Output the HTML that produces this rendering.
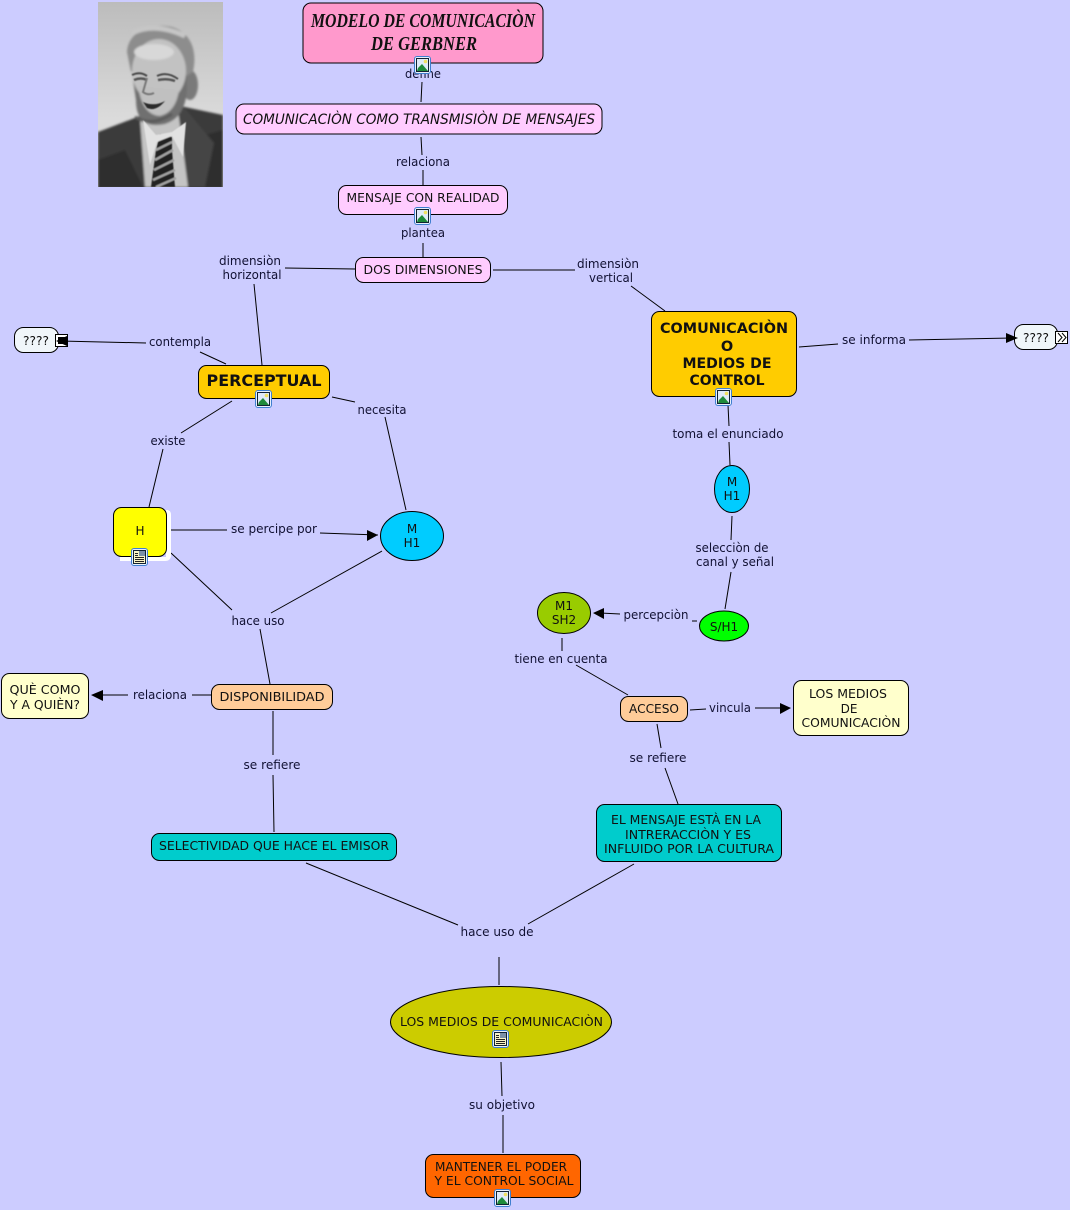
<!DOCTYPE html>
<html><head><meta charset="utf-8"><style>
html,body{margin:0;padding:0;background:#ccf;width:1070px;height:1210px;overflow:hidden}
svg{display:block}
text{font-family:"DejaVu Sans","Liberation Sans",sans-serif;font-size:12px;fill:#111133;text-anchor:middle}
.n{fill:#111}
.l{stroke:#000;stroke-width:1;fill:none}
.b{stroke:#000;stroke-width:1}
</style></head><body>
<svg width="1070" height="1210" viewBox="0 0 1070 1210" xmlns="http://www.w3.org/2000/svg">
<defs>
<g id="img"><rect x="0.5" y="0.5" width="16" height="17" rx="2.500" fill="#e8f0fc" stroke="#3f7fd0"/><rect x="2.500" y="2.500" width="12" height="13" fill="#dfeaf8" stroke="#123"/><path d="M3 15l1-3 4-4 6 7z" fill="#1f8a3a"/><circle cx="11.500" cy="5.500" r="1.800" fill="#f0e060"/></g>
<g id="doc"><rect x="0.5" y="0.5" width="16" height="17" rx="2.500" fill="#e8f0fc" stroke="#3f7fd0"/><rect x="2.500" y="2.500" width="12" height="13" fill="#f8f4c8" stroke="#123"/><path d="M4 5.500h3M4 7.500h3M4 9.500h9M4 11.500h9M4 13.500h9" stroke="#222"/><rect x="8" y="3" width="6" height="5" fill="#7a90a8"/></g>
<linearGradient id="bg" x1="0" y1="0" x2="0" y2="1"><stop offset="0" stop-color="#bcbcbc"/><stop offset="0.65" stop-color="#dcdcdc"/><stop offset="1" stop-color="#dcdcdc"/></linearGradient>
<filter id="blur" x="-5%" y="-5%" width="110%" height="110%"><feGaussianBlur stdDeviation="1"/></filter>
<filter id="blur2" x="-20%" y="-20%" width="140%" height="140%"><feGaussianBlur stdDeviation="0.600"/></filter>
<clipPath id="ph"><rect x="98" y="2" width="125" height="185"/></clipPath>
</defs>
<rect width="1070" height="1210" fill="#ccf"/>

<!-- photo -->
<rect x="98" y="2" width="125" height="185" fill="url(#bg)"/>
<g clip-path="url(#ph)">
<g filter="url(#blur)">
<path d="M98 132L140 116L180 106L223 115V190H98z" fill="#3a3a3a"/>
<path d="M98 160L125 150L143 187H98zM205 135L223 130V187H205z" fill="#2e2e2e"/>
<path d="M140 118L182 108L188 187H145z" fill="#c4c4c4"/>
<path d="M178 110L185 108L214 143L205 187H188z" fill="#444"/>
<ellipse cx="190" cy="85" rx="8" ry="15" fill="#7a7a7a"/>
<path d="M136 100Q136 130 165 124Q185 118 187 90L186 60L130 60z" fill="#6f6f6f"/>
<path d="M127 52C128 32 150 22 172 27C190 32 198 50 193 72L186 76L178 50L140 46L131 72z" fill="#8d8d8d"/>
<ellipse cx="159" cy="71" rx="27" ry="32" fill="#c2c2c2"/>
<ellipse cx="154" cy="52" rx="20" ry="8" fill="#d8d8d8"/>
<path d="M132 33Q155 22 185 36" stroke="#c6c6c6" stroke-width="5" fill="none"/>
<path d="M138 86Q142 115 160 116Q176 112 179 90z" fill="#c0c0c0"/>
<path d="M135 117Q152 127 172 114" stroke="#5a5a5a" stroke-width="3" fill="none"/>
</g>
<g filter="url(#blur2)">
<path d="M132 75Q140 71 147 76M157 76Q167 71 178 79" stroke="#4a4a4a" stroke-width="2" fill="none"/>
<path d="M134 80Q141 77 147 80M158 80Q167 78 175 81" stroke="#555" stroke-width="2.500" fill="none"/>
<path d="M147 78L143 92Q148 96 154 93" stroke="#777" stroke-width="2" fill="none"/>
<path d="M143 102Q154 107 165 101Q156 112 147 108z" fill="#2c2c2c"/>
<path d="M160 134L172 137L172 150L175 187H151L156 150z" fill="#222"/>
<path d="M156 150L172 142M155 160L173 150M154 170L174 160M153 180L175 170M156 187L176 178" stroke="#a0a0a0" stroke-width="2.500"/>
<path d="M143 120L150 165L157 142L172 136L183 157L186 122L172 132L156 135z" fill="#e2e2e2"/>
</g>
</g>

<!-- connectors -->
<path class="l" d="M422 82L421 102M421 137L422 155M423 170L423 185M423 225L423 225M423 243L423 257"/>
<path class="l" d="M355 269L285 268M493 270L575 270M254 284L262 365M631 286L665 311"/>
<path class="l" d="M226 364L200 352M146 343L60 341"/>
<path class="l" d="M232 401L181 433M163 449L149 507M332 397L355 402M385 417L406 510"/>
<path class="l" d="M171 530L227 530M320 533L378 535"/>
<path class="l" d="M171 553L232 610M382 551L271 613M260 629L270 684"/>
<path class="l" d="M211 695L192 695M128 695L100 695M273 711L273 755M273 775L274 832"/>
<path class="l" d="M799 347L838 344M909 340L1012 338"/>
<path class="l" d="M728 405L729 426M729 442L730 465M732 516L731 540M731 572L725 609M697 621L692 621M620 614L600 613"/>
<path class="l" d="M562 638L562 651M576 665L628 695M690 710L706 709M755 708L783 708M657 724L661 748M665 768L678 804"/>
<path class="l" d="M306 863L458 925M634 864L528 924M499 957L499 985M501 1062L502 1096M503 1115L503 1153"/>

<!-- nodes -->
<rect class="b" x="303" y="3" width="240" height="60" rx="8" fill="#f9c"/>
<text style="font-family:'Liberation Serif',serif;font-size:20px;font-weight:bold;font-style:italic" class="n" x="423" y="27" textLength="224" lengthAdjust="spacingAndGlyphs">MODELO DE COMUNICACIÒN</text>
<text style="font-family:'Liberation Serif',serif;font-size:20px;font-weight:bold;font-style:italic" class="n" x="424" y="50" textLength="106" lengthAdjust="spacingAndGlyphs">DE GERBNER</text>
<rect class="b" x="236" y="104" width="366" height="30" rx="8" fill="#fcf"/>
<text class="n" x="419" y="124" style="font-size:14px;font-style:italic" textLength="352" lengthAdjust="spacingAndGlyphs">COMUNICACIÒN COMO TRANSMISIÒN DE MENSAJES</text>
<rect class="b" x="338.500" y="185.500" width="169" height="29" rx="8" fill="#fcf"/>
<text class="n" x="423" y="202" textLength="153" lengthAdjust="spacingAndGlyphs">MENSAJE CON REALIDAD</text>
<rect class="b" x="355.500" y="257.500" width="135" height="25" rx="8" fill="#fcf"/>
<text class="n" x="423" y="274" textLength="119" lengthAdjust="spacingAndGlyphs">DOS DIMENSIONES</text>

<rect class="b" x="14.500" y="327.500" width="44" height="25" rx="9" fill="#f0f6fa"/>
<text class="n" x="36" y="345" textLength="26" lengthAdjust="spacingAndGlyphs">????</text>
<rect x="55.500" y="334.500" width="12" height="12" fill="#fff" stroke="#000"/>

<rect class="b" x="198.500" y="365.500" width="131" height="33" rx="8" fill="#fc0"/>
<text class="n" x="264" y="386" style="font-size:16px;font-weight:bold" textLength="115" lengthAdjust="spacingAndGlyphs">PERCEPTUAL</text>

<path d="M166 510h1Q171 510 171 515V555Q171 561 165 561H120V557H166z" fill="#fff"/>
<rect class="b" x="113.500" y="507.500" width="53" height="49" rx="8" fill="#ff0"/>
<text class="n" x="140" y="535">H</text>

<ellipse class="b" cx="412" cy="536" rx="31.500" ry="24.500" fill="#0cf"/>
<text class="n" x="412" y="533">M</text><text class="n" x="412" y="547">H1</text>

<rect class="b" x="651.500" y="311.500" width="145" height="85" rx="8" fill="#fc0"/>
<text class="n" x="724" y="333" style="font-size:14.500px;font-weight:bold" textLength="128" lengthAdjust="spacingAndGlyphs">COMUNICACIÒN</text>
<text class="n" x="727" y="351" style="font-size:14.500px;font-weight:bold">O</text>
<text class="n" x="727" y="368" style="font-size:14.500px;font-weight:bold" textLength="89" lengthAdjust="spacingAndGlyphs">MEDIOS DE</text>
<text class="n" x="727" y="385" style="font-size:14.500px;font-weight:bold" textLength="75" lengthAdjust="spacingAndGlyphs">CONTROL</text>

<rect class="b" x="1014.500" y="324.500" width="43" height="25" rx="9" fill="#f0f6fa"/>
<text class="n" x="1036" y="342" textLength="26" lengthAdjust="spacingAndGlyphs">????</text>
<rect x="1055.500" y="331.500" width="12" height="12" fill="#fff" stroke="#000"/>
<path d="M1058 333l4 4.500-4 4.500M1062 333l4 4.500-4 4.500" fill="none" stroke="#000"/>

<ellipse class="b" cx="732" cy="489" rx="17.500" ry="23.500" fill="#0cf"/>
<text class="n" x="732" y="486">M</text><text class="n" x="732" y="500">H1</text>
<ellipse class="b" cx="724" cy="626" rx="24.500" ry="15" fill="#0f0"/>
<text class="n" x="724" y="631">S/H1</text>
<ellipse class="b" cx="564" cy="613" rx="26.500" ry="20.500" fill="#9c0"/>
<text class="n" x="564" y="610">M1</text><text class="n" x="564" y="624">SH2</text>

<rect class="b" x="211.500" y="684.500" width="121" height="25" rx="8" fill="#fc9"/>
<text class="n" x="272" y="701" textLength="105" lengthAdjust="spacingAndGlyphs">DISPONIBILIDAD</text>
<rect class="b" x="1.500" y="673.500" width="87" height="45" rx="8" fill="#ffc"/>
<text class="n" x="45" y="694" textLength="71" lengthAdjust="spacingAndGlyphs">QUÈ COMO</text>
<text class="n" x="45" y="709" textLength="70" lengthAdjust="spacingAndGlyphs">Y A QUIÈN?</text>

<rect class="b" x="620.500" y="696.500" width="67" height="25" rx="8" fill="#fc9"/>
<text class="n" x="654" y="713" textLength="50" lengthAdjust="spacingAndGlyphs">ACCESO</text>
<rect class="b" x="793.500" y="680.500" width="115" height="55" rx="8" fill="#ffc"/>
<text class="n" x="848" y="698" textLength="78" lengthAdjust="spacingAndGlyphs">LOS MEDIOS</text>
<text class="n" x="849" y="713">DE</text>
<text class="n" x="851" y="727" textLength="99" lengthAdjust="spacingAndGlyphs">COMUNICACIÒN</text>

<rect class="b" x="151.500" y="833.500" width="245" height="27" rx="8" fill="#0cc"/>
<text class="n" x="274" y="850" textLength="230" lengthAdjust="spacingAndGlyphs">SELECTIVIDAD QUE HACE EL EMISOR</text>
<rect class="b" x="596.500" y="804.500" width="185" height="57" rx="8" fill="#0cc"/>
<text class="n" x="686" y="824" textLength="150" lengthAdjust="spacingAndGlyphs">EL MENSAJE ESTÀ EN LA</text>
<text class="n" x="688" y="839" textLength="126" lengthAdjust="spacingAndGlyphs">INTRERACCIÒN Y ES</text>
<text class="n" x="689" y="853" textLength="170" lengthAdjust="spacingAndGlyphs">INFLUIDO POR LA CULTURA</text>

<ellipse class="b" cx="501" cy="1022" rx="110.500" ry="35.500" fill="#cc0"/>
<text class="n" x="501.500" y="1026" textLength="203" lengthAdjust="spacingAndGlyphs">LOS MEDIOS DE COMUNICACIÒN</text>
<rect class="b" x="425.500" y="1154.500" width="155" height="43" rx="8" fill="#f60"/>
<text class="n" x="501" y="1171" textLength="132" lengthAdjust="spacingAndGlyphs">MANTENER EL PODER</text>
<text class="n" x="504" y="1185" textLength="139" lengthAdjust="spacingAndGlyphs">Y EL CONTROL SOCIAL</text>

<!-- arrowheads on top of nodes -->
<rect x="58" y="337" width="7" height="7" fill="#000"/>
<path d="M56 341L67 336V346z" fill="#000"/>
<path d="M1018 338L1006 333V343z" fill="#000"/>
<path d="M378 535L367 530V541z" fill="#000"/>
<path d="M593 613L604 608V619z" fill="#000"/>
<path d="M91 695L103 690V701z" fill="#000"/>
<path d="M791 708L780 703V714z" fill="#000"/>

<!-- labels -->
<text x="423" y="78" textLength="36" lengthAdjust="spacingAndGlyphs">define</text>
<text x="423" y="166" textLength="54" lengthAdjust="spacingAndGlyphs">relaciona</text>
<text x="423" y="237" textLength="44" lengthAdjust="spacingAndGlyphs">plantea</text>
<text x="250" y="265" textLength="62" lengthAdjust="spacingAndGlyphs">dimensiòn</text>
<text x="252" y="279" textLength="59" lengthAdjust="spacingAndGlyphs">horizontal</text>
<text x="608" y="268" textLength="62" lengthAdjust="spacingAndGlyphs">dimensiòn</text>
<text x="611" y="282" textLength="44" lengthAdjust="spacingAndGlyphs">vertical</text>
<text x="180" y="346" textLength="62" lengthAdjust="spacingAndGlyphs">contempla</text>
<text x="168" y="445" textLength="35" lengthAdjust="spacingAndGlyphs">existe</text>
<text x="382" y="414" textLength="49" lengthAdjust="spacingAndGlyphs">necesita</text>
<text x="274" y="533" textLength="86" lengthAdjust="spacingAndGlyphs">se percipe por</text>
<text x="258" y="625" textLength="53" lengthAdjust="spacingAndGlyphs">hace uso</text>
<text x="160" y="699" textLength="54" lengthAdjust="spacingAndGlyphs">relaciona</text>
<text x="272" y="769" textLength="57" lengthAdjust="spacingAndGlyphs">se refiere</text>
<text x="874" y="344" textLength="64" lengthAdjust="spacingAndGlyphs">se informa</text>
<text x="728" y="438" textLength="111" lengthAdjust="spacingAndGlyphs">toma el enunciado</text>
<text x="732" y="552" textLength="73" lengthAdjust="spacingAndGlyphs">selecciòn de</text>
<text x="735" y="566" textLength="78" lengthAdjust="spacingAndGlyphs">canal y señal</text>
<text x="656" y="619" textLength="65" lengthAdjust="spacingAndGlyphs">percepciòn</text>
<text x="561" y="663" textLength="93" lengthAdjust="spacingAndGlyphs">tiene en cuenta</text>
<text x="730" y="712" textLength="42" lengthAdjust="spacingAndGlyphs">vincula</text>
<text x="658" y="762" textLength="57" lengthAdjust="spacingAndGlyphs">se refiere</text>
<text x="497" y="936" textLength="73" lengthAdjust="spacingAndGlyphs">hace uso de</text>
<text x="502" y="1109" textLength="66" lengthAdjust="spacingAndGlyphs">su objetivo</text>

<!-- icons -->
<use href="#img" x="414" y="56"/>
<use href="#img" x="414" y="207"/>
<use href="#img" x="255" y="390"/>
<use href="#img" x="715" y="388"/>
<use href="#doc" x="131" y="548"/>
<use href="#doc" x="492" y="1030"/>
<use href="#img" x="494" y="1189"/>
</svg>
</body></html>
